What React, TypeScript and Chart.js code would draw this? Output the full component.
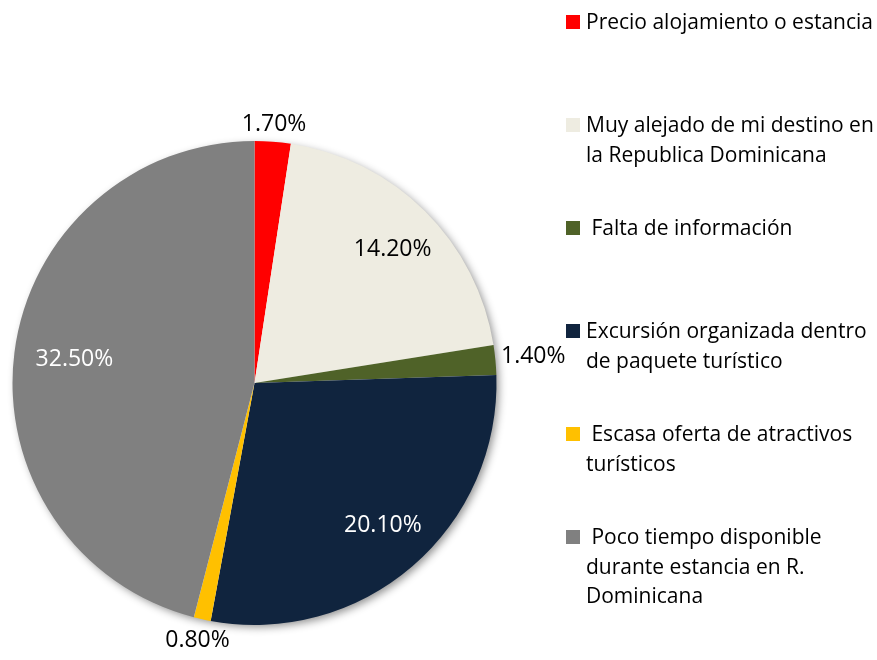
import React, { useEffect, useRef } from "react";
import { Chart, registerables } from "chart.js";

Chart.register(...registerables);

const categories: string[][] = [
  ["Precio alojamiento o estancia"],
  ["Muy alejado de mi destino en", "la Republica Dominicana"],
  [" Falta de información"],
  ["Excursión organizada dentro", "de paquete turístico"],
  [" Escasa oferta de atractivos", "turísticos"],
  [" Poco tiempo disponible", "durante estancia en R.", "Dominicana"],
];
const values: number[] = [1.7, 14.2, 1.4, 20.1, 0.8, 32.5];
const valueLabels: string[] = ["1.70%", "14.20%", "1.40%", "20.10%", "0.80%", "32.50%"];
const colors: string[] = ["#FF0000", "#EEECE1", "#4F6228", "#10243E", "#FFC000", "#808080"];
const labelColors: string[] = ["#000000", "#000000", "#000000", "#FFFFFF", "#000000", "#FFFFFF"];

const FONT = "'Open Sans', Lato, sans-serif";

const shadowPlugin = {
  id: "pieShadow",
  beforeDatasetsDraw(chart: any) {
    const meta = chart.getDatasetMeta(0);
    const arc = meta.data[0];
    if (!arc) return;
    const { x, y, outerRadius } = arc.getProps(["x", "y", "outerRadius"], true);
    const ctx = chart.ctx;
    ctx.save();
    ctx.shadowColor = "rgba(0,0,0,0.45)";
    ctx.shadowBlur = 9;
    ctx.shadowOffsetX = 3;
    ctx.shadowOffsetY = 3;
    ctx.fillStyle = "#ffffff";
    ctx.beginPath();
    ctx.arc(x, y, outerRadius - 1, 0, Math.PI * 2);
    ctx.fill();
    ctx.restore();
  },
};

const labelPlugin = {
  id: "sliceLabels",
  afterDatasetsDraw(chart: any) {
    const meta = chart.getDatasetMeta(0);
    const ctx = chart.ctx;
    const total = values.reduce((a, b) => a + b, 0);
    ctx.save();
    ctx.font = `23px ${FONT}`;
    ctx.textAlign = "center";
    ctx.textBaseline = "middle";
    meta.data.forEach((arc: any, i: number) => {
      const { x, y, startAngle, endAngle, outerRadius } = arc.getProps(
        ["x", "y", "startAngle", "endAngle", "outerRadius"],
        true
      );
      const mid = (startAngle + endAngle) / 2;
      const text = valueLabels[i];
      const w = ctx.measureText(text).width;
      const h = 20;
      let r: number;
      let dx = 0;
      if (values[i] / total > 0.05) {
        r = outerRadius * 0.775;
        dx = 6;
      } else {
        r = outerRadius + 5 + Math.abs(Math.cos(mid)) * w / 2 + Math.abs(Math.sin(mid)) * h / 2;
      }
      ctx.fillStyle = labelColors[i];
      ctx.fillText(text, x + Math.cos(mid) * r + dx, y + Math.sin(mid) * r);
    });
    ctx.restore();
  },
};

export default function App() {
  const canvasRef = useRef<HTMLCanvasElement | null>(null);

  useEffect(() => {
    const canvas = canvasRef.current;
    if (!canvas) return;
    const chart = new Chart(canvas, {
      type: "pie",
      data: {
        labels: categories.map((c) => c.join(" ")),
        datasets: [
          {
            data: values,
            backgroundColor: colors,
            borderWidth: 0,
          },
        ],
      },
      options: {
        responsive: false,
        animation: false,
        rotation: 0,
        layout: { padding: { left: 12, right: 380, top: 141, bottom: 35 } },
        plugins: {
          legend: { display: false },
          tooltip: { enabled: false },
        },
      },
      plugins: [shadowPlugin, labelPlugin],
    });
    return () => chart.destroy();
  }, []);

  return (
    <div style={{ position: "absolute", left: 0, top: 0, width: 877, height: 660, background: "#fff" }}>
      <canvas ref={canvasRef} width={877} height={660} style={{ position: "absolute", left: 0, top: 0 }} />
      {categories.map((lines, i) => (
        <div
          key={i}
          style={{
            position: "absolute",
            left: 566,
            top: 22 + i * 103 - 15,
            fontFamily: FONT,
            fontSize: 21,
            lineHeight: "29.5px",
            color: "#000",
            whiteSpace: "pre",
          }}
        >
          <span
            style={{
              position: "absolute",
              left: 0,
              top: 8,
              width: 14,
              height: 14,
              background: colors[i],
            }}
          />
          <div style={{ marginLeft: 20 }}>
            {lines.map((l, j) => (
              <div key={j}>{l}</div>
            ))}
          </div>
        </div>
      ))}
    </div>
  );
}
